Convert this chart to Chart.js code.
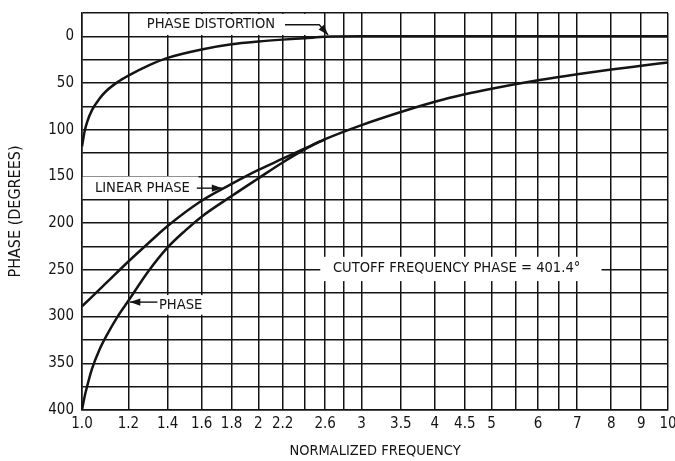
<!DOCTYPE html>
<html>
<head>
<meta charset="utf-8">
<script src="https://cdn.jsdelivr.net/npm/chart.js@4.4.0/dist/chart.umd.min.js"></script>
<style>
  html, body { margin: 0; padding: 0; background: #fff; }
  #wrap { width: 675px; height: 461px; }
</style>
</head>
<body>
<div id="wrap"><canvas id="chart"></canvas></div>
<script>
// values (normalized frequency vs phase in degrees)
const freqLinear = [1.0, 1.1, 1.2, 1.3, 1.4, 1.6, 1.8, 2.0, 2.2, 2.4, 2.6, 3.0, 3.5, 4.0, 4.5, 5.0, 6.0, 7.0, 8.0, 9.0, 10.0];
const linearPhase = [289, 264, 241, 221, 203, 176, 158, 143, 131, 120, 110, 95, 81, 70, 62, 56, 47, 40.5, 35.5, 31.5, 28];

const freqPhase = [1.0, 1.01, 1.02, 1.04, 1.07, 1.1, 1.15, 1.2, 1.3, 1.4, 1.5, 1.6, 1.8, 2.0, 2.2, 2.4, 2.6];
const phase = [400, 386, 375, 356, 336, 321, 300, 283, 251, 226, 208, 193, 171, 152, 135, 121, 110];

const freqDist = [1.0, 1.01, 1.02, 1.04, 1.07, 1.1, 1.15, 1.2, 1.3, 1.4, 1.6, 1.8, 2.0, 2.2, 2.4, 2.6, 3.0, 4.0, 6.0, 10.0];
const distortion = [118, 102, 92, 79, 67, 58.5, 49, 42, 31, 23, 14, 8.5, 5.5, 3.5, 2, 0.5, 0, 0, 0, 0];

const xGrid = [1.0, 1.2, 1.4, 1.6, 1.8, 2, 2.2, 2.4, 2.6, 2.8, 3, 3.5, 4, 4.5, 5, 5.5, 6, 6.5, 7, 8, 9, 10];
const xLabels = {1: '1.0', 1.2: '1.2', 1.4: '1.4', 1.6: '1.6', 1.8: '1.8', 2: '2', 2.2: '2.2', 2.6: '2.6',
  3: '3', 3.5: '3.5', 4: '4', 4.5: '4.5', 5: '5', 6: '6', 7: '7', 8: '8', 9: '9', 10: '10'};

const FONT = "'Liberation Sans Narrow', 'DejaVu Sans Condensed', 'Roboto Condensed', sans-serif";
const INK = '#141414';

const toPts = (xs, ys) => xs.map((x, i) => ({ x: x, y: ys[i] }));

// callouts: text anchored in data units, arrow tip in data units
const notes = [
  { text: 'PHASE DISTORTION', x: 1.29, y: -12.5, box: [1.23, -24, 2.55, -1.5],
    arrow: [[2.22, -12.5], [2.54, -12.5], [2.63, -1.5]] },
  { text: 'LINEAR PHASE', x: 1.052, y: 162.5, box: [1.003, 150, 1.58, 174],
    arrow: [[1.57, 162.5], [1.735, 162.5]] },
  { text: 'PHASE', x: 1.353, y: 287.5, box: [1.33, 277, 1.62, 298],
    arrow: [[1.345, 284.5], [1.207, 284.5]] },
  { text: 'CUTOFF FREQUENCY PHASE = 401.4°', x: 2.68, y: 248.5, box: [2.55, 236, 7.7, 262] }
];

const callouts = {
  id: 'callouts',
  afterDraw(chart) {
    const ctx = chart.ctx, xs = chart.scales.x, ys = chart.scales.y;
    const px = v => xs.getPixelForValue(v), py = v => ys.getPixelForValue(v);
    ctx.save();
    notes.forEach(n => {
      const b = n.box;
      ctx.fillStyle = '#fff';
      ctx.fillRect(px(b[0]), py(b[1]), px(b[2]) - px(b[0]), py(b[3]) - py(b[1]));
      ctx.fillStyle = INK;
      ctx.font = '14.6px ' + FONT;
      ctx.textBaseline = 'middle';
      ctx.textAlign = 'left';
      ctx.fillText(n.text, px(n.x), py(n.y));
      if (n.arrow) {
        const a = n.arrow.map(p => [px(p[0]), py(p[1])]);
        ctx.strokeStyle = INK;
        ctx.lineWidth = 1.4;
        ctx.beginPath();
        ctx.moveTo(a[0][0], a[0][1]);
        for (let i = 1; i < a.length; i++) ctx.lineTo(a[i][0], a[i][1]);
        ctx.stroke();
        const t = a[a.length - 1], s = a[a.length - 2];
        const ang = Math.atan2(t[1] - s[1], t[0] - s[0]);
        ctx.beginPath();
        ctx.moveTo(t[0], t[1]);
        ctx.lineTo(t[0] - 11 * Math.cos(ang - 0.33), t[1] - 11 * Math.sin(ang - 0.33));
        ctx.lineTo(t[0] - 11 * Math.cos(ang + 0.33), t[1] - 11 * Math.sin(ang + 0.33));
        ctx.closePath();
        ctx.fill();
      }
    });
    ctx.restore();
  }
};

const line = (data) => ({
  data: data, showLine: true, pointRadius: 0, borderColor: INK, borderWidth: 2.5,
  cubicInterpolationMode: 'monotone', fill: false
});

new Chart(document.getElementById('chart'), {
  type: 'scatter',
  data: {
    datasets: [
      line(toPts(freqDist, distortion)),
      line(toPts(freqPhase, phase)),
      line(toPts(freqLinear, linearPhase))
    ]
  },
  options: {
    responsive: true,
    maintainAspectRatio: false,
    animation: false,
    layout: { padding: { top: 13, right: 7, left: 0, bottom: 0 } },
    plugins: { legend: { display: false }, tooltip: { enabled: false } },
    scales: {
      x: {
        type: 'logarithmic', min: 1, max: 10,
        afterBuildTicks: s => { s.ticks = xGrid.map(v => ({ value: v })); },
        afterFit: s => { s.height = 51; s.paddingLeft = 0; s.paddingRight = 0; },
        grid: { color: INK, lineWidth: 1.5, drawTicks: false },
        border: { color: INK, width: 1.5 },
        ticks: {
          autoSkip: false, maxRotation: 0, padding: 5, color: INK,
          font: { family: FONT, size: 15 },
          callback: v => xLabels[v] || ''
        },
        title: { display: true, text: 'NORMALIZED FREQUENCY', color: INK,
          font: { family: FONT, size: 14.5 }, padding: { top: 0, bottom: 1 } }
      },
      y: {
        reverse: true, min: -25, max: 400,
        afterFit: s => { s.width = 82; s.paddingTop = 0; s.paddingBottom = 0; },
        grid: { color: INK, lineWidth: 1.5, drawTicks: false },
        border: { color: INK, width: 1.5 },
        ticks: {
          stepSize: 25, padding: 8, color: INK,
          font: { family: FONT, size: 15 },
          callback: v => (v >= 0 && v % 50 === 0) ? String(v) : ''
        },
        title: { display: true, text: 'PHASE (DEGREES)', color: INK,
          font: { family: FONT, size: 16 }, padding: { top: 6, bottom: 0 } }
      }
    }
  },
  plugins: [callouts]
});
</script>
</body>
</html>
